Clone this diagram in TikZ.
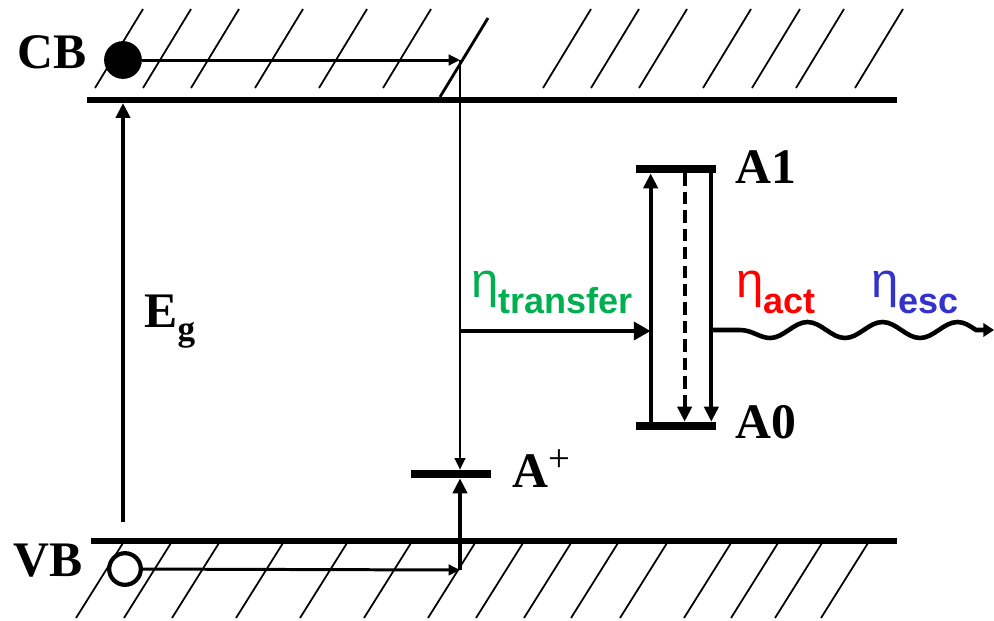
\documentclass[tikz,border=0pt]{standalone}
\usepackage{fontspec}
\setmainfont{Liberation Serif}
\newfontfamily\etafont{Liberation Sans}
\usetikzlibrary{arrows.meta}
\definecolor{etagreen}{RGB}{0,176,80}
\definecolor{etared}{RGB}{255,0,0}
\definecolor{etablue}{RGB}{51,51,204}

\begin{document}
\begin{tikzpicture}[
    x=0.02cm, y=-0.02cm,
    band/.style={line width=3.5pt},
    hatch/.style={line width=1pt},
    level/.style={fill=black, inner sep=0pt, minimum width=1.6cm,
                  minimum height=0.16cm},
    lbl/.style={font=\bfseries\fontsize{28.3}{34}\selectfont,
                inner sep=0pt, anchor=base west},
    etalbl/.style={font=\etafont\fontsize{28}{30}\selectfont,
                   inner sep=0pt, anchor=base west},
    thinarr/.style={-{Triangle[length=6.5pt,width=6pt]}, line width=1.7pt},
    midarr/.style={-{Triangle[length=8.5pt,width=8pt]}, line width=2.2pt},
    bigarr/.style={-{Triangle[length=9.5pt,width=10pt]}, line width=2.8pt},
    wavearr/.style={-{Triangle[length=6pt,width=7.5pt]}, line width=2.6pt},
]
\useasboundingbox (0,0) rectangle (994,620);

% Conduction band with hatching
\foreach \hx in {95,143,191,255,319,383,543,591,639,703,752,796,855}
    \draw[hatch] (\hx,88) -- ++(48,-79);
\draw[hatch, line width=1.6pt] (440,97) -- (488,18);
\draw[band] (87,100) -- (897,100);

% Valence band with hatching
\foreach \hx in {123,171,219,283,347,411,475,523,571,618,667,731,778,822,868}
    \draw[hatch] (\hx,543) -- ++(-47,75);
\draw[band] (91,541) -- (897,541);

% Carriers
\node[circle, fill=black, inner sep=0pt, minimum size=21.5pt] (elec) at (123,60) {};
\node[circle, draw, fill=white, line width=2.4pt, inner sep=0pt,
      minimum size=18pt] (hole) at (125,569) {};

% Levels
\node[level, minimum width=1.62cm] (aplus) at (451,474) {};
\node[level] (a1) at (676,169) {};
\node[level] (a0) at (676,426) {};

% Labels
\node[lbl] (cb) at (17,68) {CB};
\node[lbl] (vb) at (13,576) {VB};
\node[lbl] (eg) at (144,327) {E\raisebox{-7.4pt}{\fontsize{20}{24}\selectfont g}};
\node[lbl] (aplbl) at (512,487) {A\raisebox{9pt}{\fontsize{22}{26}\selectfont\mdseries +}};
\node[lbl] (a1lbl) at (735,183) {A1};
\node[lbl] (a0lbl) at (735,438) {A0};
\node[etalbl, text=etagreen] (etatr) at (471,297)
    {η\raisebox{-9.4pt}{\fontsize{20.5}{24}\selectfont\bfseries transfer}};
\node[etalbl, text=etared] (etaact) at (736,297)
    {η\raisebox{-9.4pt}{\fontsize{20.5}{24}\selectfont\bfseries act}};
\node[etalbl, text=etablue] (etaesc) at (871,297)
    {η\raisebox{-9.4pt}{\fontsize{20.5}{24}\selectfont\bfseries esc}};

% Band gap
\draw[midarr] (123,522) -- (123,103);

% Electron and hole paths to A+
\coordinate (cbturn) at (460,60);
\coordinate (vbturn) at (460,570);
\draw[thinarr] (elec) -- (cbturn);
\draw[thinarr, line width=1.2pt] (cbturn) -- (cbturn |- aplus.north);
\draw[thinarr] (hole) -- (vbturn);
\draw[midarr] (vbturn) -- (vbturn |- aplus.south);

% Activator transitions
\coordinate (upx) at ([xshift=0.3cm]a0.north west);
\coordinate (dashx) at ([xshift=0.98cm]a1.south west);
\coordinate (downx) at ([xshift=-0.1cm]a1.south east);
\draw[midarr] (upx) -- (upx |- a1.south);
\draw[midarr, dash pattern=on 7pt off 3.5pt] (dashx) -- (dashx |- a0.north);
\draw[midarr] (downx) -- (downx |- a0.north);

% Transfer and emission
\coordinate (trstart) at (460,331);
\draw[bigarr] (trstart) -- (trstart -| upx);
\coordinate (wvstart) at (711,330);
\draw[wavearr] (wvstart) -- (740,330) .. controls (752,330) and (760,338) .. (770,338)
    cos (788.75,330) sin (807.5,322) cos (826.25,330) sin (845,338)
    cos (863.75,330) sin (882.5,322) cos (901.25,330) sin (920,338)
    cos (938.75,330) sin (957.5,322) cos (976,330) -- (994,330);
\end{tikzpicture}
\end{document}
